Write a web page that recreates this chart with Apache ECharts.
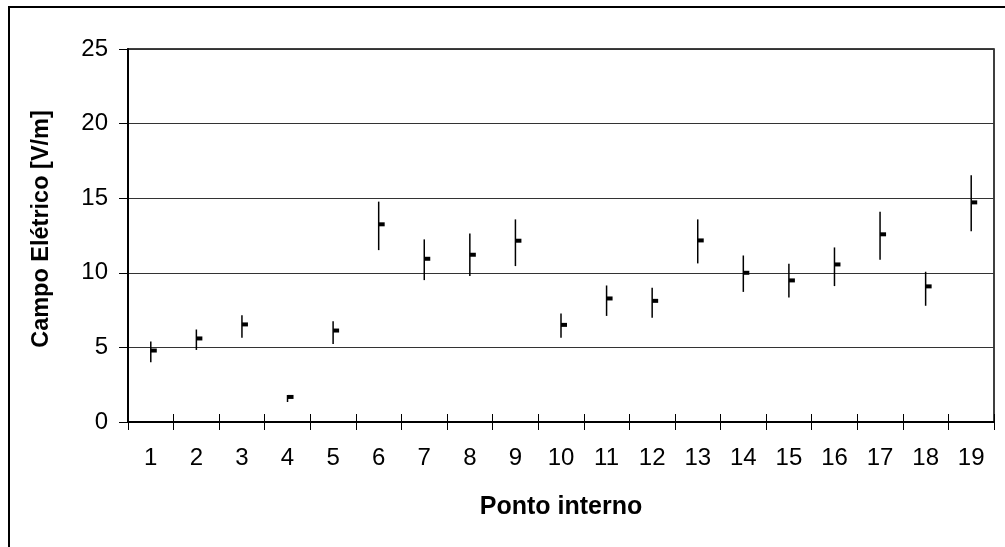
<!DOCTYPE html>
<html>
<head>
<meta charset="utf-8">
<script src="https://cdn.jsdelivr.net/npm/echarts@6/dist/echarts.min.js"></script>
<style>
  html, body { margin: 0; padding: 0; background: #fff; }
  #chart { width: 1005px; height: 547px; }
</style>
</head>
<body>
<div id="chart"></div>
<script>
// ponto interno 1..19
var pontos = ['1','2','3','4','5','6','7','8','9','10','11','12','13','14','15','16','17','18','19'];
// campo eletrico [V/m]: maximo, minimo, medio
var maximo = [5.4, 6.2, 7.15, 1.81, 6.76, 14.77, 12.24, 12.64, 13.58, 7.27, 9.15, 8.99, 13.58, 11.16, 10.6, 11.7, 14.09, 10.07, 16.54];
var minimo = [4.0, 4.83, 5.64, 1.34, 5.23, 11.52, 9.51, 9.78, 10.45, 5.64, 7.11, 6.98, 10.63, 8.72, 8.35, 9.11, 10.87, 7.79, 12.78];
var medio  = [4.79, 5.6, 6.54, 1.68, 6.13, 13.25, 10.94, 11.21, 12.15, 6.51, 8.28, 8.12, 12.17, 10.0, 9.49, 10.56, 12.58, 9.09, 14.72];

var yTicks = [0, 5, 10, 15, 20, 25];

var dados = pontos.map(function (p, i) {
  return [i, maximo[i], minimo[i], medio[i]];
});

var chart = echarts.init(document.getElementById('chart'));

var option = {
  animation: false,
  backgroundColor: '#fff',
  textStyle: { fontFamily: 'Liberation Sans, Arial, sans-serif' },
  grid: {
    left: 128,
    right: 11,
    top: 49,
    bottom: 125,
    show: true,
    borderColor: '#000',
    borderWidth: 1.5
  },
  xAxis: [{
    type: 'category',
    data: pontos,
    axisLine: { lineStyle: { color: '#000', width: 2 } },
    axisTick: { show: true, length: 8, lineStyle: { color: '#000', width: 1 } },
    axisLabel: { color: '#000', fontSize: 24, margin: 24 },
    splitLine: { show: false }
  }, {
    // ticks de dentro (estilo Excel, cruzando o eixo)
    type: 'category',
    data: pontos,
    position: 'bottom',
    axisLine: { show: false },
    axisTick: { show: true, inside: true, length: 8, lineStyle: { color: '#000', width: 1 } },
    axisLabel: { show: false },
    splitLine: { show: false }
  }],
  yAxis: {
    type: 'value',
    min: yTicks[0],
    max: yTicks[yTicks.length - 1],
    interval: 5,
    axisLine: { show: true, lineStyle: { color: '#000', width: 2 } },
    axisTick: { show: true, length: 9, lineStyle: { color: '#000', width: 1 } },
    axisLabel: { color: '#000', fontSize: 24, margin: 20 },
    splitLine: { show: true, lineStyle: { color: '#333', width: 1.2 } }
  },
  graphic: [{
    type: 'rect',
    shape: { x: 9, y: 7, width: 1010, height: 560 },
    style: { fill: 'none', stroke: '#000', lineWidth: 2 },
    silent: true
  }, {
    type: 'text',
    x: 561, y: 507,
    style: {
      text: 'Ponto interno', fill: '#000',
      font: 'bold 25px Liberation Sans, Arial, sans-serif',
      align: 'center', verticalAlign: 'middle'
    }
  }, {
    type: 'text',
    x: 42, y: 229,
    rotation: Math.PI / 2,
    style: {
      text: 'Campo Elétrico [V/m]', fill: '#000',
      font: 'bold 23.5px Liberation Sans, Arial, sans-serif',
      align: 'center', verticalAlign: 'middle'
    }
  }],
  series: [{
    type: 'custom',
    data: dados,
    encode: { x: 0, y: [1, 2, 3] },
    renderItem: function (params, api) {
      var i = api.value(0);
      var alto = api.coord([i, api.value(1)]);
      var baixo = api.coord([i, api.value(2)]);
      var meio = api.coord([i, api.value(3)]);
      return {
        type: 'group',
        children: [{
          type: 'line',
          shape: { x1: alto[0], y1: alto[1], x2: baixo[0], y2: baixo[1] },
          style: { stroke: '#000', lineWidth: 1.5 }
        }, {
          type: 'rect',
          shape: { x: meio[0], y: meio[1] - 2, width: 6, height: 4 },
          style: { fill: '#000' }
        }]
      };
    }
  }]
};

chart.setOption(option);
</script>
</body>
</html>
